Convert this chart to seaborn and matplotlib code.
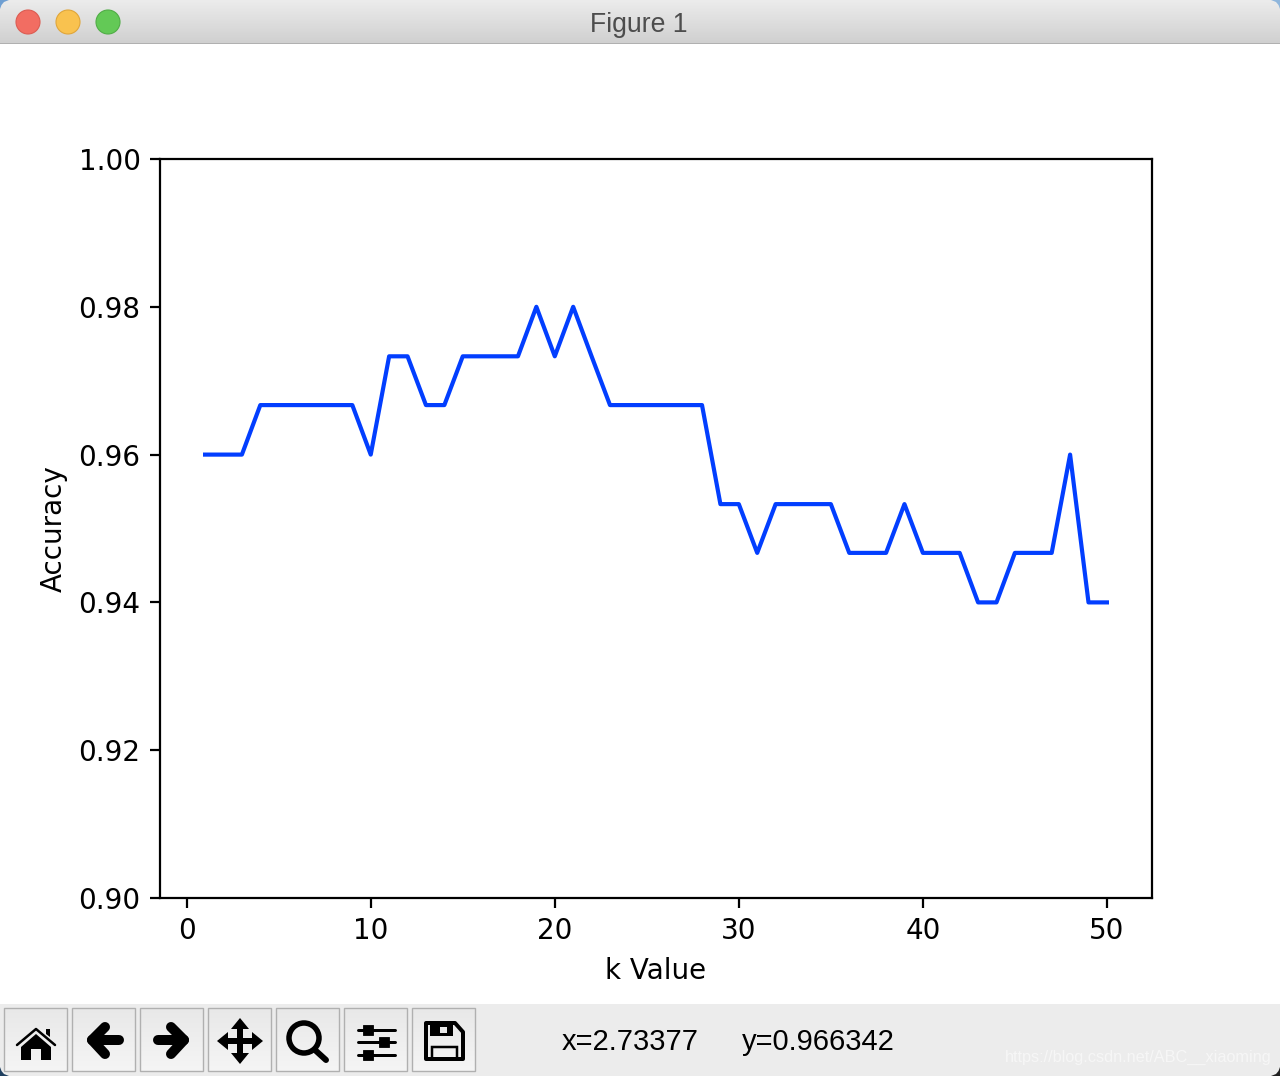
import numpy as np
import pandas as pd
import matplotlib
matplotlib.use('Agg')
import matplotlib.pyplot as plt
from matplotlib.patches import Circle, Ellipse, Polygon, Rectangle
import seaborn as sns

k_values = list(range(1, 51))
accuracy = [0.96, 0.96, 0.96, 0.9667, 0.9667, 0.9667, 0.9667, 0.9667, 0.9667, 0.96,
            0.9733, 0.9733, 0.9667, 0.9667, 0.9733, 0.9733, 0.9733, 0.9733, 0.98, 0.9733,
            0.98, 0.9733, 0.9667, 0.9667, 0.9667, 0.9667, 0.9667, 0.9667, 0.9533, 0.9533,
            0.9467, 0.9533, 0.9533, 0.9533, 0.9533, 0.9467, 0.9467, 0.9467, 0.9533, 0.9467,
            0.9467, 0.9467, 0.94, 0.94, 0.9467, 0.9467, 0.9467, 0.96, 0.94, 0.94]
y_ticks = [0.90, 0.92, 0.94, 0.96, 0.98, 1.00]
x_ticks = [0, 10, 20, 30, 40, 50]

W, H = 1280, 1076
PX = 72 / 200  # 1 pixel in points

df = pd.DataFrame({'k': k_values, 'acc': accuracy})

fig = plt.figure(figsize=(W / 200, H / 200), dpi=200)
ax = fig.add_axes([160 / W, 1 - 898 / H, 992 / W, 739 / H])
sns.lineplot(data=df, x='k', y='acc', color=sns.color_palette('bright')[0], ax=ax)
ax.set_ylim(0.90, 1.00)
ax.set_xticks(x_ticks)
ax.set_yticks(y_ticks)
ax.set_xlabel('k Value')
ax.set_ylabel('Accuracy')

# 窗口外框，用像素坐标画
ui = fig.add_axes([0, 0, 1, 1], zorder=5)
ui.patch.set_alpha(0)
ui.axis('off')


def gradient(x0, x1, y0, y1, top, bottom):
    cmap = matplotlib.colors.LinearSegmentedColormap.from_list('g', [top, bottom])
    ui.imshow(np.linspace(0, 1, 64)[:, None], extent=(x0, x1, y1, y0), cmap=cmap,
              aspect='auto', interpolation='bilinear', zorder=1)


def stroke(points, width):
    xs, ys = zip(*points)
    ui.plot(xs, ys, color='black', lw=width * PX, solid_capstyle='round',
            solid_joinstyle='round', zorder=3)


def fill(points, color='black'):
    ui.add_patch(Polygon(points, closed=True, fc=color, ec='none', zorder=3))


gradient(0, W, 0, 43, '#ececec', '#d0d0d0')
ui.add_patch(Rectangle((0, 42.5), W, 1.5, fc='#b0b0b0', ec='none', zorder=2))
for cx, face, edge in [(28, '#f26d62', '#dc5c52'), (68, '#f9c24f', '#e0a63a'), (108, '#63c956', '#50ad46')]:
    ui.add_patch(Ellipse((cx, 22), 24, 24, fc=face, ec=edge, lw=0.4, zorder=3))
ui.text(639, 25, 'Figure 1', family='Liberation Sans', fontsize=9.6, color='#4d4d4d',
        ha='center', va='center', zorder=3)

ui.add_patch(Rectangle((0, 1004), W, 72, fc='#ececec', ec='none', zorder=0.5))
for i in range(7):
    x0 = 4 + 68 * i
    gradient(x0, x0 + 63, 1008, 1071, '#e8e8e8', '#f5f5f5')
    ui.add_patch(Rectangle((x0, 1008), 63, 63, fc='none', ec='#b0b0b0', lw=0.5, zorder=2))

# 圆角处露出的桌面
fill([(0, 0), (9, 0), (4, 2), (1.5, 5), (0, 9)], '#6f9fd2')
fill([(W, 0), (W - 9, 0), (W - 4, 2), (W - 1.5, 5), (W, 9)], '#8fb6dc')
fill([(0, H), (0, H - 9), (1.5, H - 5), (4, H - 2), (9, H)], '#1f3f5f')
fill([(W, H), (W, H - 9), (W - 1.5, H - 5), (W - 4, H - 2), (W - 9, H)], '#202020')

# home
fill([(21, 1047), (36, 1034), (51, 1047), (51, 1060), (41, 1060), (41, 1049), (31, 1049), (31, 1060), (21, 1060)])
stroke([(17, 1045), (36, 1029), (55, 1045)], 2.5)
fill([(46, 1029), (50, 1029), (50, 1037), (46, 1034)])
# back / forward
stroke([(105, 1027), (92, 1040), (105, 1054)], 10)
stroke([(92, 1040), (119, 1040)], 10)
stroke([(171, 1027), (184, 1040), (171, 1054)], 10)
stroke([(158, 1040), (184, 1040)], 10)
# move
stroke([(240, 1026), (240, 1056)], 6)
stroke([(224, 1041), (256, 1041)], 6)
fill([(240, 1018), (249, 1029), (231, 1029)])
fill([(240, 1064), (249, 1053), (231, 1053)])
fill([(217, 1041), (228, 1032), (228, 1050)])
fill([(263, 1041), (252, 1032), (252, 1050)])
# zoom
ui.add_patch(Circle((304, 1038), 15, fc='none', ec='black', lw=5.5 * PX, zorder=3))
stroke([(315, 1050), (326, 1060)], 6)
# sliders
for y, kx in [(1030, 368), (1042, 384), (1055, 368)]:
    stroke([(358, y), (395, y)], 3)
    ui.add_patch(Rectangle((kx - 5, y - 5), 10, 10, fc='black', ec='black', lw=0.3, zorder=4))
# save
ui.add_patch(Polygon([(426, 1023), (455, 1023), (463, 1032), (463, 1059), (426, 1059)], closed=True,
                     fc='none', ec='black', lw=4 * PX, joinstyle='round', zorder=3))
fill([(430, 1023), (453, 1023), (453, 1036), (430, 1036)])
ui.add_patch(Rectangle((440, 1027), 7, 6, fc='#e8e8e8', ec='none', zorder=4))
ui.add_patch(Rectangle((432, 1047), 25, 12, fc='none', ec='black', lw=2.5 * PX, zorder=3))

ui.text(562, 1042, 'x=2.73377', family='Liberation Sans', fontsize=10.5, color='black',
        ha='left', va='center', zorder=3)
ui.text(742, 1042, 'y=0.966342', family='Liberation Sans', fontsize=10.5, color='black',
        ha='left', va='center', zorder=3)
ui.text(1272, 1057, 'https://blog.csdn.net/ABC__xiaoming', family='Liberation Sans', fontsize=5.85,
        color='white', alpha=0.55, ha='right', va='center', zorder=3)

ui.set_xlim(0, W)
ui.set_ylim(H, 0)

fig.savefig('out.png', dpi=200)
